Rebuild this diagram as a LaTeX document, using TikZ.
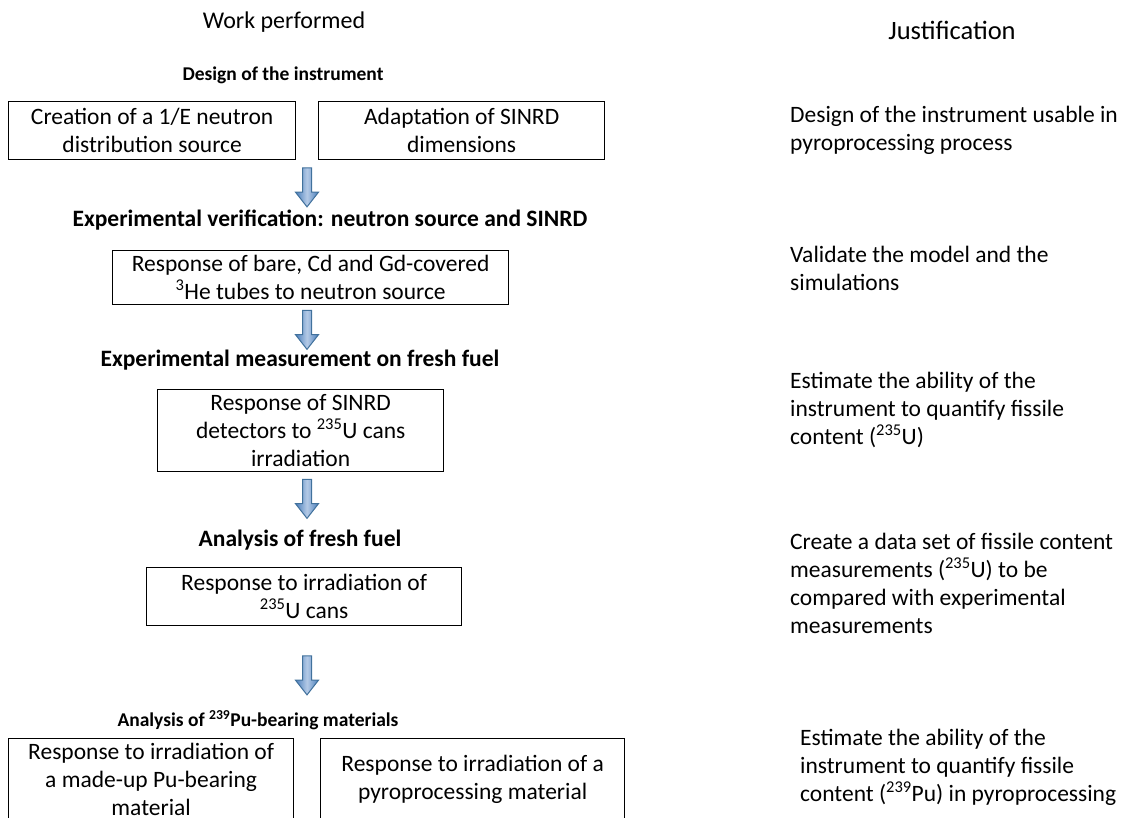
\documentclass[tikz,border=0pt]{standalone}
\usepackage{fontspec}
\setmainfont{Carlito}
\usetikzlibrary{shapes.arrows}
\definecolor{arrowborder}{HTML}{41719C}
\definecolor{arrowdark}{HTML}{4A7EBB}
\definecolor{arrowlight}{HTML}{B4CAE6}
\begin{document}
\begin{tikzpicture}[x=1pt,y=-1pt,
  every node/.style={font=\fontsize{23.5}{28}\selectfont, inner sep=0pt, align=center},
  box/.style={draw, line width=1.3pt, anchor=north west},
  headtext/.style={font=\fontsize{23.5}{28}\selectfont\bfseries},
  smallhead/.style={font=\fontsize{19.5}{24}\selectfont\bfseries},
  titletext/.style={font=\fontsize{24}{28}\selectfont},
  just/.style={anchor=west, align=left},
  blockarrow/.style={single arrow, shape border rotate=270, draw=arrowborder, line width=1pt,
    left color=arrowdark, right color=arrowdark, middle color=arrowlight,
    minimum height=39pt, minimum width=22pt, single arrow head extend=7pt,
    single arrow tip angle=76, inner sep=4pt}]
\useasboundingbox (0,0) rectangle (1126,817);

% column titles
\node[titletext] (wp) at (284,22) {Work performed};
\node[titletext, font=\fontsize{26.5}{30}\selectfont] (jt) at (952,30) {Justification};

% headings
\node[smallhead] (h1) at (283,75) {Design of the instrument};
\node[headtext] (h2) at (330,220) {Experimental verification: neutron source and SINRD};
\node[headtext] (h3) at (300,360) {Experimental measurement on fresh fuel};
\node[headtext] (h4) at (300,540) {Analysis of fresh fuel};
\node[smallhead] (h5) at (258,720) {Analysis of \textsuperscript{239}Pu-bearing materials};

% boxes
\node[box, minimum width=287pt, minimum height=58pt] (b1) at (8,101) {Creation of a 1/E neutron\\distribution source};
\node[box, minimum width=286pt, minimum height=58pt] (b2) at (318,101) {Adaptation of SINRD\\dimensions};
\node[box, minimum width=396pt, minimum height=54pt] (b3) at (112,250) {Response of bare, Cd and Gd-covered\\\textsuperscript{3}He tubes to neutron source};
\node[box, minimum width=286pt, minimum height=82pt] (b4) at (157,389) {Response of SINRD\\detectors to \textsuperscript{235}U cans\\irradiation};
\node[box, minimum width=315pt, minimum height=58pt] (b5) at (146,567) {Response to irradiation of\\\textsuperscript{235}U cans};
\node[box, minimum width=285pt, minimum height=82pt] (b6) at (8,738) {Response to irradiation of\\a made-up Pu-bearing\\material};
\node[box, minimum width=304pt, minimum height=82pt] (b7) at (320,738) {Response to irradiation of a\\pyroprocessing material};

% block arrows
\node[blockarrow] (a1) at (307,184.5) {};
\node[blockarrow] (a2) at (307,327) {};
\node[blockarrow] (a3) at (307,496) {};
\node[blockarrow] (a4) at (307,672.5) {};

% justifications
\node[just] (j1) at (790,130.5) {Design of the instrument usable in\\pyroprocessing process};
\node[just] (j2) at (790,268.5) {Validate the model and the\\simulations};
\node[just] (j3) at (790,410) {Estimate the ability of the\\instrument to quantify fissile\\content (\textsuperscript{235}U)};
\node[just] (j4) at (790,583) {Create a data set of fissile content\\measurements (\textsuperscript{235}U) to be\\compared with experimental\\measurements};
\node[just] (j5) at (800,767) {Estimate the ability of the\\instrument to quantify fissile\\content (\textsuperscript{239}Pu) in pyroprocessing};
\end{tikzpicture}
\end{document}
